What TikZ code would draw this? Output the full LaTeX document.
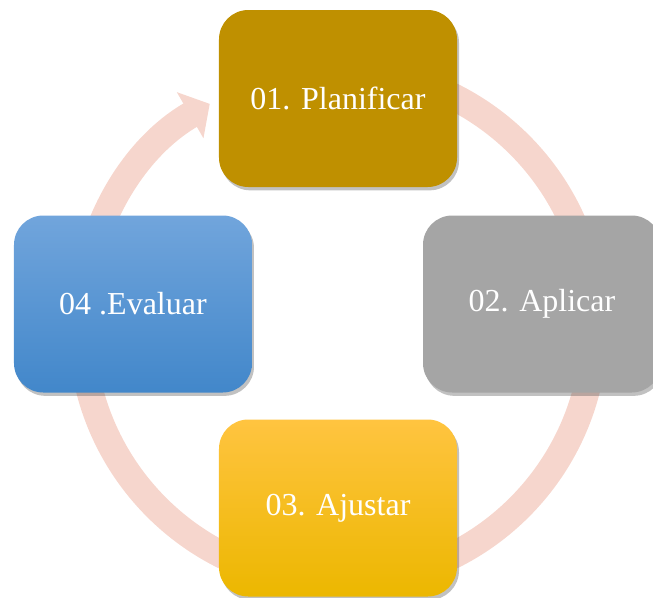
\documentclass[tikz,border=0pt]{standalone}
\usepackage{fontspec}
\setmainfont{Liberation Serif}
\usetikzlibrary{arrows.meta,shadows}

\definecolor{anillo}{RGB}{246,214,205}
\definecolor{oro}{RGB}{191,144,0}
\definecolor{gris}{RGB}{165,165,165}

\begin{document}
\begin{tikzpicture}[x=0.75pt, y=0.75pt,
	etapa/.style={rounded corners=22pt, minimum width=178.5pt, minimum height=132.75pt,
		text=white, font=\fontsize{24}{28}\selectfont,
		drop shadow={shadow xshift=1.5pt, shadow yshift=-2.5pt, opacity=0.35, fill=black!70}}]
	\useasboundingbox (-338, -271) rectangle (315, 326);
	\coordinate (centro) at (0, 0);
	% anillo con flecha
	\draw[anillo, line width=20.25pt, -{Triangle[length=17pt, width=39pt]}] ([shift={(92:256.5)}]centro) arc (92:-240:256.5);
	% etapas
	\node[etapa, fill=oro] (planificar) at (0, 227.5) {01. Planificar};
	\node[etapa, fill=gris] (aplicar) at (204, 22) {02. Aplicar};
	\node[etapa, top color={rgb,255:red,255;green,196;blue,64}, middle color={rgb,255:red,255;green,192;blue,0}, bottom color={rgb,255:red,236;green,183;blue,0}] (ajustar) at (0, -182) {03. Ajustar};
	\node[etapa, top color={rgb,255:red,113;green,165;blue,220}, middle color={rgb,255:red,91;green,155;blue,215}, bottom color={rgb,255:red,66;green,135;blue,202}] (evaluar) at (-205, 22) {04 .Evaluar};
\end{tikzpicture}
\end{document}
